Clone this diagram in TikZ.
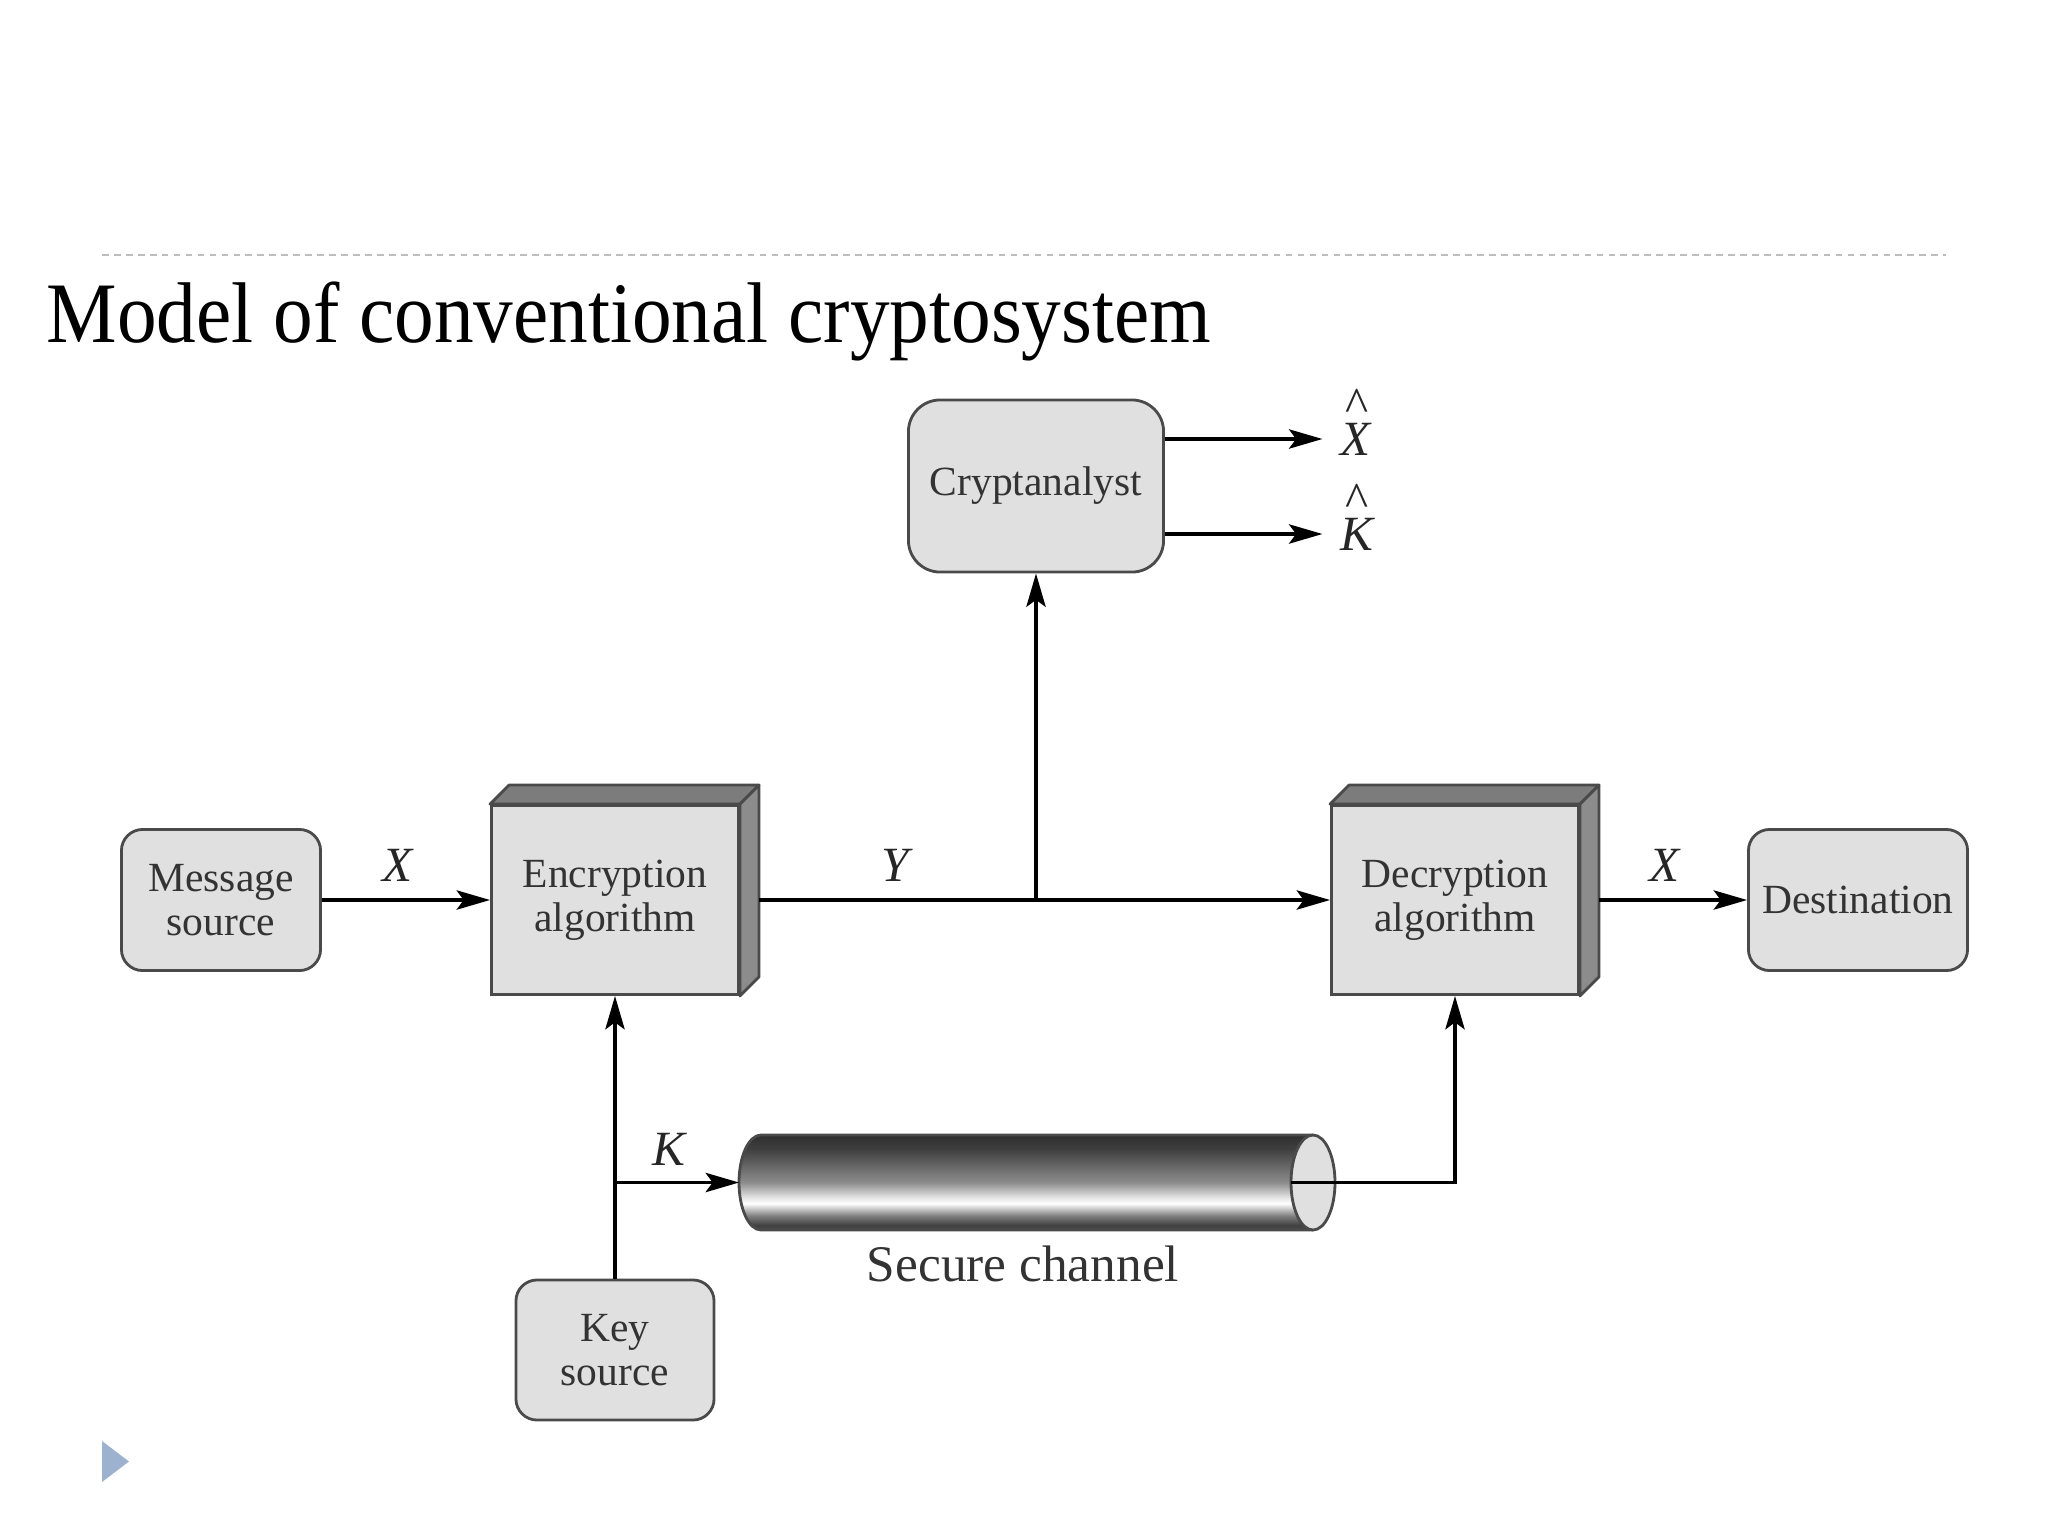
\documentclass[tikz,border=0pt]{standalone}
\usepackage{fontspec}
\setmainfont{Liberation Serif}
\usetikzlibrary{arrows.meta,calc,shadings}
\definecolor{boxfill}{HTML}{E0E0E0}
\definecolor{boxline}{HTML}{4A4A4A}
\definecolor{sidegray}{HTML}{8C8C8C}
\definecolor{topgray}{HTML}{7C7C7C}
\definecolor{txt}{HTML}{333333}
\definecolor{dashcol}{HTML}{BDBDBD}
\definecolor{tri}{HTML}{9CB2CF}
\pgfdeclareverticalshading{tube}{100bp}{color(0bp)=(black!70); color(25bp)=(black!70); color(27.5bp)=(black!75); color(32.5bp)=(black!50); color(39bp)=(white); color(42.5bp)=(black!12); color(50bp)=(black!45); color(67.5bp)=(black!75); color(75bp)=(black!82); color(100bp)=(black!82)}
\newcommand{\hatted}[2]{\makebox[0pt][l]{\hspace{#2}\raisebox{9.6pt}{\upshape\fontsize{14}{14}\selectfont\textasciicircum}}#1}
\begin{document}
\begin{tikzpicture}[x=0.01cm,y=-0.01cm,
  box/.style={draw=boxline, fill=boxfill, line width=0.8pt, text=txt, align=center,
    font=\fontsize{11.8}{12.6}\selectfont, inner sep=0pt},
  rbox/.style={box, rounded corners=6pt},
  arr/.style={line width=0.9pt, -{Stealth[length=9.5pt,width=5.5pt,inset=2pt]}},
  conn/.style={line width=0.9pt},
  lbl/.style={font=\fontsize{14}{14}\selectfont\itshape, text=black!85, inner sep=0pt},
]
\useasboundingbox (0,0) rectangle (2048,1536);
\draw[dashcol, line width=0.45pt, dash pattern=on 1.9pt off 1.5pt] (102,255) -- (1946,255);
\node[anchor=base west, inner sep=0pt, font=\fontsize{24.5}{24.5}\selectfont] (title) at (46,342)
  {\scalebox{0.92}[1]{Model of conventional cryptosystem}};

% boxes
\node[rbox, minimum width=1.99cm, minimum height=1.41cm] (msg) at (221,900) {Message\\source};
\node[box, minimum width=2.47cm, minimum height=1.89cm] (enc) at (615,900) {Encryption\\algorithm};
\node[box, minimum width=2.47cm, minimum height=1.89cm] (dec) at (1455,900) {Decryption\\algorithm};
\node[rbox, minimum width=2.19cm, minimum height=1.41cm] (dest) at (1858,900) {Destination};
\node[rbox, rounded corners=9pt, minimum width=2.55cm, minimum height=1.72cm] (crypt) at (1036,486) {Cryptanalyst};
\node[rbox, minimum width=1.98cm, minimum height=1.40cm] (key) at (615,1350) {Key\\source};

\foreach \n in {enc,dec} {
  \filldraw[fill=topgray, draw=boxline, line width=0.8pt, line join=round]
    (\n.north west) -- ++(19,-19) -- ($(\n.north east)+(19,-19)$) -- (\n.north east) -- cycle;
  \filldraw[fill=sidegray, draw=boxline, line width=0.8pt, line join=round]
    (\n.north east) -- ++(19,-19) -- ($(\n.south east)+(19,-19)$) -- (\n.south east) -- cycle;
}

% main row
\coordinate (encout) at ($(enc.east)+(19,0)$);
\coordinate (decout) at ($(dec.east)+(19,0)$);
\coordinate (tap) at (crypt.south |- enc.east);
\draw[arr] (msg.east) -- (enc.west);
\draw[arr] (encout) -- (dec.west);
\draw[arr] (tap) -- (crypt.south);
\draw[arr] (decout) -- (dest.west);
\node[lbl] (lx1) at (398,865) {X};
\node[lbl] (ly) at (895,865) {Y};
\node[lbl] (lx2) at (1665,865) {X};

% cryptanalyst outputs
\node[lbl, anchor=west, text height=9.3pt, text depth=0pt] (xh) at (1340,439) {\hatted{X}{1.3pt}};
\node[lbl, anchor=west, text height=9.3pt, text depth=0pt] (kh) at (1340,534) {\hatted{K}{1.5pt}};
\draw[arr, shorten >=5pt] (crypt.east |- xh.west) -- (xh.west);
\draw[arr, shorten >=5pt] (crypt.east |- kh.west) -- (kh.west);

% secure channel
\coordinate (chanin) at (739,1182.5);
\coordinate (chanout) at (1291,1182.5);
\shade[shading=tube] (1313,1135) -- (761,1135) arc[start angle=270,end angle=90,x radius=22,y radius=47.5] -- (1313,1230) -- cycle;
\draw[boxline, line width=0.8pt] (1313,1135) -- (761,1135) arc[start angle=270,end angle=90,x radius=22,y radius=47.5] -- (1313,1230);
\filldraw[fill=boxfill, draw=boxline, line width=0.8pt] (1313,1182.5) ellipse [x radius=22, y radius=47.5];
\node[font=\fontsize{14.6}{15}\selectfont, text=txt] (seclbl) at (1023,1264) {Secure channel};

% key distribution
\coordinate (kj) at (key.north |- chanin);
\draw[arr] (key.north) -- (enc.south);
\draw[arr] (kj) -- (chanin);
\draw[arr] (chanout) -| (dec.south);
\node[lbl] (lk) at (669,1149) {K};

% slide bullet
\fill[tri] (102,1441) -- (129,1461.5) -- (102,1482) -- cycle;
\end{tikzpicture}
\end{document}
